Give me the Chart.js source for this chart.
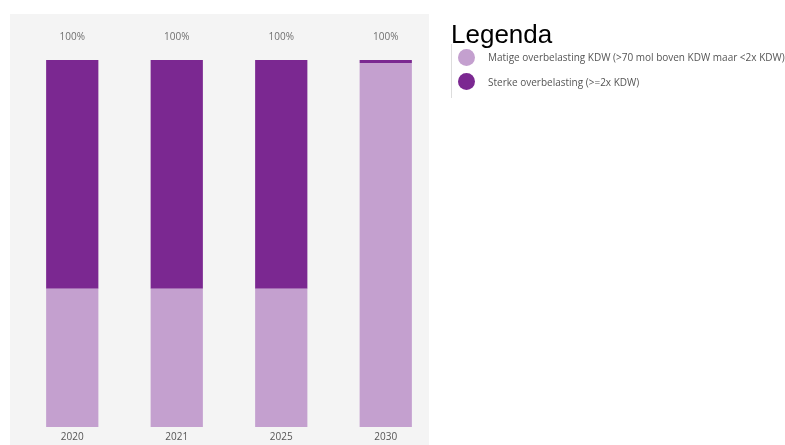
<!DOCTYPE html>
<html>
<head>
<meta charset="utf-8">
<script src="https://cdn.jsdelivr.net/npm/chart.js@4"></script>
<style>
  html, body { margin: 0; padding: 0; background: #fff; }
  #wrap { position: relative; width: 785px; height: 445px; overflow: hidden; }
  #bg { position: absolute; left: 10px; top: 14px; width: 419px; height: 431px; background: #f4f4f4; }
  canvas { position: absolute; left: 0; top: 0; }
  #legend { position: absolute; left: 451px; top: 20px; font-family: "Liberation Sans", Arial, sans-serif; }
  #legend .title { font-size: 26px; color: #000; line-height: 28px; margin: 0; padding-left: 0; }
  #legend .items { border-left: 1px solid #ddd; margin-top: -4px; padding: 1px 0 4px 6px; }
  #legend .item { display: flex; align-items: center; height: 24.5px; font-family: "Open Sans", sans-serif; font-size: 10px; color: #555; white-space: nowrap; }
  #legend .dot { width: 17px; height: 17px; border-radius: 50%; margin-right: 13px; flex: none; }
</style>
</head>
<body>
<div id="wrap">
  <div id="bg"></div>
  <canvas id="c" width="785" height="447"></canvas>
  <div id="legend"><div class="title">Legenda</div><div class="items" id="items"></div></div>
</div>
<script>
const categories = ["2020", "2021", "2025", "2030"];
const seriesNames = [
  "Matige overbelasting KDW (>70 mol boven KDW maar <2x KDW)",
  "Sterke overbelasting (>=2x KDW)"
];
const matige = [37.7, 37.7, 37.7, 99.2];
const sterke = [62.3, 62.3, 62.3, 0.8];
const colors = ["#c4a0cf", "#7b2891"];

const items = document.getElementById("items");
seriesNames.forEach((n, i) => {
  const d = document.createElement("div");
  d.className = "item";
  d.innerHTML = '<span class="dot" style="background:' + colors[i] + '"></span><span></span>';
  d.lastChild.textContent = n;
  items.appendChild(d);
});

const totalsPlugin = {
  id: "totals",
  afterDatasetsDraw(chart) {
    const ctx = chart.ctx;
    const xs = chart.scales.x;
    ctx.save();
    ctx.font = '10px "Open Sans", sans-serif';
    ctx.fillStyle = "#6f6f6f";
    ctx.textAlign = "center";
    ctx.textBaseline = "middle";
    categories.forEach((c, i) => {
      const t = matige[i] + sterke[i];
      ctx.fillText(Math.round(t) + "%", xs.getPixelForValue(i), 37);
    });
    ctx.restore();
  }
};

new Chart(document.getElementById("c"), {
  type: "bar",
  data: {
    labels: categories,
    datasets: [
      { label: seriesNames[0], data: matige, backgroundColor: colors[0], borderWidth: 0 },
      { label: seriesNames[1], data: sterke, backgroundColor: colors[1], borderWidth: 0 }
    ]
  },
  options: {
    responsive: false,
    animation: false,
    layout: { padding: { left: 20, right: 347, top: 60, bottom: 0 } },
    plugins: { legend: { display: false }, tooltip: { enabled: false } },
    scales: {
      x: {
        stacked: true,
        grid: { display: false, drawTicks: false },
        border: { display: false },
        ticks: { color: "#555", font: { family: "Open Sans", size: 10 }, padding: 4 }
      },
      y: {
        stacked: true,
        min: 0, max: 100,
        display: false
      }
    },
    datasets: { bar: { categoryPercentage: 1.0, barPercentage: 0.5 } }
  },
  plugins: [totalsPlugin]
});
</script>
</body>
</html>
